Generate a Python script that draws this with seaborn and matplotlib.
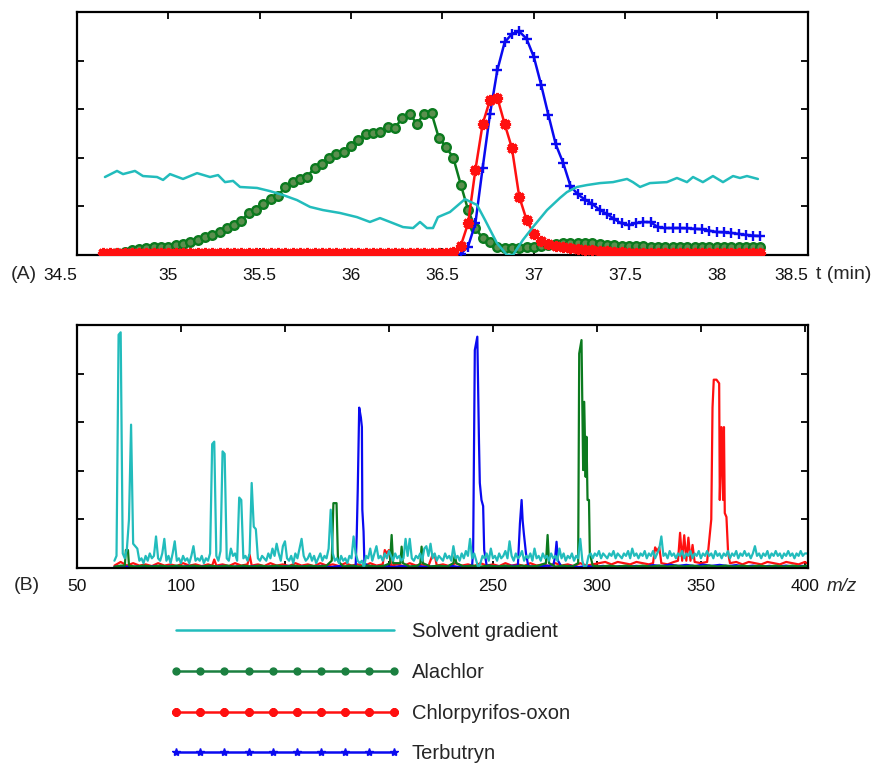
import matplotlib
matplotlib.use("Agg")
import matplotlib.pyplot as plt
from matplotlib.lines import Line2D
import seaborn as sns

# -----------------------------
# Data: (A) extracted ion chromatograms
# -----------------------------
scan_time = [
    34.64, 34.68, 34.72, 34.76, 34.80, 34.84, 34.88, 34.92, 34.96, 35.00,
    35.04, 35.08, 35.12, 35.16, 35.20, 35.24, 35.28, 35.32, 35.36, 35.40,
    35.44, 35.48, 35.52, 35.56, 35.60, 35.64, 35.68, 35.72, 35.76, 35.80,
    35.84, 35.88, 35.92, 35.96, 36.00, 36.04, 36.08, 36.12, 36.16, 36.20,
    36.24, 36.28, 36.32, 36.36, 36.40, 36.44, 36.48, 36.52, 36.56, 36.60,
    36.64, 36.68, 36.72, 36.76, 36.80, 36.84, 36.88, 36.92, 36.96, 37.00,
    37.04, 37.08, 37.12, 37.16, 37.20, 37.24, 37.28, 37.32, 37.36, 37.40,
    37.44, 37.48, 37.52, 37.56, 37.60, 37.64, 37.68, 37.72, 37.76, 37.80,
    37.84, 37.88, 37.92, 37.96, 38.00, 38.04, 38.08, 38.12, 38.16, 38.20,
    38.24,
]

alachlor = [
    0.5, 0.6, 0.9, 1.3, 1.9, 2.5, 2.8, 3.2, 3.3, 3.4,
    4.1, 4.6, 5.2, 6.2, 7.4, 8.4, 9.3, 11.0, 12.4, 14.2,
    17.4, 18.6, 20.8, 23.0, 24.4, 28.0, 30.0, 31.2, 32.2, 36.0,
    37.6, 40.0, 41.4, 42.6, 45.0, 47.2, 49.6, 50.3, 50.6, 52.8,
    52.3, 56.4, 58.2, 54.0, 58.2, 58.4, 48.2, 44.5, 39.8, 29.0,
    18.6, 11.0, 7.0, 5.2, 3.3, 2.9, 2.9, 2.9, 3.1, 3.3,
    3.8, 4.1, 4.5, 4.8, 4.9, 4.9, 4.9, 4.8, 4.5, 4.1,
    4.0, 3.9, 3.8, 3.7, 3.6, 3.5, 3.4, 3.3, 3.3, 3.4,
    3.3, 3.2, 3.3, 3.3, 3.2, 3.3, 3.4, 3.3, 3.2, 3.3,
    3.3,
]

chlorpyrifos_oxon = [
    0.8, 0.9, 0.7, 0.8, 1.0, 0.8, 0.7, 0.9, 0.8, 0.8,
    0.9, 0.7, 0.8, 1.0, 0.8, 0.7, 0.9, 0.8, 0.8, 0.9,
    0.7, 0.8, 1.0, 0.8, 0.7, 0.9, 0.8, 0.8, 0.9, 0.7,
    0.8, 1.0, 0.8, 0.7, 0.9, 0.8, 0.8, 0.9, 0.7, 0.8,
    1.0, 0.8, 0.7, 0.9, 0.8, 0.8, 0.9, 0.7, 1.2, 3.8,
    13.0, 35.0, 54.0, 63.8, 64.8, 54.0, 44.0, 24.0, 14.5, 8.6,
    5.9, 4.4, 3.6, 3.1, 2.7, 2.5, 2.2, 1.9, 1.7, 1.5,
    1.3, 1.1, 1.0, 0.9, 0.8, 0.9, 0.8, 0.7, 0.8, 0.9,
    0.8, 0.7, 0.8, 0.9, 0.8, 0.8, 0.7, 0.9, 0.8, 0.8,
    0.8,
]

terbutryn = [
    0.4, 0.3, 0.5, 0.4, 0.3, 0.4, 0.5, 0.4, 0.3, 0.4,
    0.4, 0.3, 0.5, 0.4, 0.3, 0.4, 0.5, 0.4, 0.3, 0.4,
    0.4, 0.3, 0.5, 0.4, 0.3, 0.4, 0.5, 0.4, 0.3, 0.4,
    0.4, 0.3, 0.5, 0.4, 0.3, 0.4, 0.5, 0.4, 0.3, 0.4,
    0.4, 0.3, 0.5, 0.4, 0.3, 0.4, 0.5, 0.4, 0.3, 0.4,
    3.5, 13.0, 36.0, 58.0, 76.0, 87.5, 91.0, 92.0, 89.0, 81.5,
    70.0, 57.5, 45.5, 38.0, 28.5, 25.0, 22.8, 21.0, 18.6, 16.9,
    14.8, 13.0, 12.3, 13.2, 13.6, 13.5, 11.4, 11.1, 11.1, 11.1,
    11.0, 10.8, 10.6, 10.0, 9.5, 9.3, 9.1, 8.7, 8.3, 8.0,
    7.8,
]

solvent_time = [
    34.653, 34.719, 34.752, 34.817, 34.861, 34.938, 34.971, 35.009, 35.080, 35.157,
    35.228, 35.272, 35.310, 35.354, 35.392, 35.485, 35.556, 35.627, 35.704, 35.775,
    35.846, 35.939, 36.032, 36.103, 36.158, 36.213, 36.284, 36.339, 36.377, 36.415,
    36.448, 36.475, 36.541, 36.623, 36.689, 36.733, 36.798, 36.853, 36.886, 36.940,
    36.995, 37.072, 37.143, 37.181, 37.236, 37.291, 37.362, 37.433, 37.510, 37.542,
    37.581, 37.635, 37.728, 37.783, 37.838, 37.871, 37.925, 37.980, 38.035, 38.090,
    38.128, 38.166, 38.226,
]

solvent_level = [
    32.1, 34.6, 33.3, 34.6, 32.5, 32.1, 30.9, 33.3, 31.3, 33.7,
    32.1, 32.9, 30.0, 30.5, 28.0, 27.6, 26.3, 24.7, 22.6, 19.8,
    18.5, 17.3, 15.6, 13.6, 15.2, 13.6, 11.5, 11.1, 13.6, 11.1,
    11.1, 15.6, 17.7, 23.0, 20.6, 14.4, 4.9, 0.0, 0.0, 6.2,
    11.5, 18.5, 23.5, 25.9, 28.0, 28.8, 29.6, 30.0, 31.3, 30.0,
    28.0, 29.6, 30.0, 31.7, 30.0, 32.1, 30.0, 32.5, 30.0, 32.5,
    31.7, 32.5, 31.3,
]

time_ticks = [34.5, 35, 35.5, 36, 36.5, 37, 37.5, 38, 38.5]
time_tick_labels = ["34.5", "35", "35.5", "36", "36.5", "37", "37.5", "38", "38.5"]

# -----------------------------
# Data: (B) mass spectra
# -----------------------------
solvent_mz = list(range(68, 402))
solvent_spectrum = [
    3, 5, 96, 97, 6, 4, 8, 20, 59, 10,
    9, 8, 3, 4, 2, 5, 3, 6, 4, 5,
    13, 4, 3, 6, 12, 3, 5, 2, 6, 11,
    3, 4, 2, 5, 3, 4, 2, 5, 9, 3,
    4, 3, 5, 2, 4, 3, 6, 51, 52, 5,
    3, 7, 48, 47, 4, 3, 8, 5, 6, 3,
    29, 28, 4, 5, 3, 6, 35, 17, 16, 4,
    3, 5, 4, 3, 6, 4, 8, 5, 10, 6,
    3, 9, 11, 4, 3, 5, 2, 6, 4, 8,
    12, 5, 3, 4, 6, 3, 5, 2, 4, 6,
    3, 5, 4, 8, 24, 6, 3, 4, 2, 5,
    3, 4, 2, 5, 4, 13, 6, 3, 2, 3,
    0, 5, 4, 8, 3, 6, 9, 4, 5, 3,
    6, 4, 7, 5, 3, 6, 4, 5, 3, 4,
    12, 5, 12, 4, 3, 5, 4, 6, 3, 8,
    9, 5, 10, 4, 6, 3, 5, 4, 3, 6,
    4, 5, 3, 9, 4, 5, 3, 6, 4, 7,
    5, 12, 4, 6, 3, 0, 2, 5, 4, 6,
    3, 8, 4, 5, 3, 6, 4, 5, 7, 4,
    11, 5, 3, 6, 4, 5, 7, 3, 5, 4,
    6, 3, 8, 4, 5, 3, 6, 4, 5, 3,
    6, 4, 5, 3, 8, 4, 6, 3, 5, 4,
    6, 3, 5, 4, 12, 3, 0, 1, 5, 6,
    4, 6, 5, 7, 4, 6, 5, 4, 6, 5,
    7, 4, 6, 5, 4, 6, 5, 7, 4, 8,
    5, 6, 4, 6, 5, 7, 4, 6, 5, 7,
    4, 6, 8, 13, 5, 6, 4, 7, 5, 6,
    4, 6, 5, 7, 4, 6, 5, 7, 4, 6,
    5, 7, 4, 6, 5, 7, 5, 6, 4, 7,
    5, 6, 4, 6, 5, 7, 4, 6, 5, 7,
    4, 6, 5, 7, 5, 6, 4, 6, 9, 5,
    6, 4, 6, 5, 7, 4, 6, 5, 7, 5,
    6, 4, 6, 5, 7, 5, 6, 4, 6, 5,
    7, 5, 6, 6,
]

# (m/z, intensity) pairs
alachlor_spectrum = [
    (68, 0.5), (71, 1.0), (73, 1.0), (73.5, 7.4), (74.5, 7.4), (75, 1.0), (78, 0.6),
    (82, 1.0), (86, 0.6), (90, 1.0), (94, 0.6), (98, 1.0), (102, 0.6), (106, 1.0),
    (110, 0.6), (114, 1.0), (118, 0.6), (122, 1.0), (126, 0.6), (130, 1.0), (134, 0.6),
    (138, 1.0), (142, 0.6), (146, 1.0), (150, 0.6), (154, 1.0), (158, 0.6), (162, 1.0),
    (166, 0.6), (170, 1.0), (172.5, 3.0), (173.3, 26.7), (174.8, 26.7), (175.5, 3.0),
    (178, 0.6), (182, 1.0), (186, 0.6), (190, 1.0), (194, 0.6), (198, 1.0), (200.5, 2.0),
    (201.3, 13.6), (202, 2.0), (205.5, 2.0), (206.1, 8.8), (206.7, 2.0), (210, 0.6),
    (214, 1.0), (215.1, 2.0), (215.7, 8.8), (216.3, 2.0), (220, 0.6), (224, 1.0),
    (228, 0.6), (231, 2.0), (231.7, 5.5), (232.4, 2.0), (236, 0.6), (240, 1.0),
    (244, 0.6), (248, 1.0), (252, 0.6), (256, 1.0), (260, 0.6), (264, 1.0), (268, 0.6),
    (272, 1.0), (275.5, 2.0), (276.3, 13.6), (277, 2.0), (280, 0.6), (284, 1.0),
    (288, 0.6), (291, 2.0), (291.5, 88.3), (292.6, 93.8), (293.4, 40.3), (293.9, 68.4),
    (294.6, 37.5), (295.0, 54.0), (295.5, 28.0), (296.2, 28.0), (296.6, 6.0), (298, 1.0),
    (302, 0.6), (306, 1.0), (310, 0.6), (314, 1.0), (318, 0.6), (322, 1.0), (326, 0.6),
    (330, 1.0), (334, 0.6), (338, 1.0), (342, 0.6), (346, 1.0), (350, 0.6), (354, 1.0),
    (358, 0.6), (362, 1.0), (366, 0.6), (370, 1.0), (374, 0.6), (378, 1.0), (382, 0.6),
    (386, 1.0), (390, 0.6), (394, 1.0), (398, 0.6), (401, 1.0),
]

chlorpyrifos_oxon_spectrum = [
    (68, 1.0), (71, 2.5), (74, 1.0), (77, 2.0), (80, 1.0), (83, 1.5), (86, 0.8),
    (89, 2.0), (92, 1.0), (95, 1.5), (98, 0.8), (101, 2.0), (104, 1.0), (107, 1.5),
    (110, 0.8), (113, 1.5), (115, 1.0), (116, 3.5), (117, 1.0), (120, 1.5), (123, 0.8),
    (126, 2.0), (129, 1.0), (132, 1.5), (133, 5.5), (134, 1.0), (137, 1.5), (140, 0.8),
    (143, 2.0), (146, 1.0), (149, 1.5), (152, 0.8), (155, 2.0), (158, 1.0), (161, 1.5),
    (164, 0.8), (167, 2.0), (170, 1.0), (173, 1.5), (176, 0.8), (179, 2.0), (182, 1.0),
    (185, 1.5), (188, 0.8), (191, 2.0), (194, 1.0), (197, 1.5), (198, 7.4), (199, 6.0),
    (200, 7.4), (201, 1.0), (204, 1.5), (207, 0.8), (210, 2.0), (213, 1.0), (216, 1.5),
    (219, 0.8), (221, 5.5), (222, 5.5), (223, 1.0), (226, 1.5), (229, 0.8), (232, 2.0),
    (235, 1.0), (238, 1.5), (241, 0.8), (244, 2.0), (247, 1.0), (250, 1.5), (253, 0.8),
    (256, 2.0), (259, 1.0), (262, 1.5), (265, 0.8), (268, 2.0), (271, 1.0), (274, 1.5),
    (277, 0.8), (280, 2.0), (283, 1.0), (286, 1.5), (289, 0.8), (292, 2.0), (295, 1.0),
    (298, 1.5), (301, 2.0), (304, 2.5), (307, 1.5), (310, 2.5), (313, 2.0), (316, 1.5),
    (319, 2.5), (322, 2.0), (325, 1.5), (327, 2.0), (328, 8.5), (329, 7.0), (330, 8.5),
    (331, 2.0), (334, 1.5), (337, 2.5), (339, 3.0), (340, 14.5), (341, 3.0), (342, 13.5),
    (343, 3.0), (344, 12.5), (345, 3.0), (346, 9.5), (347, 2.5), (350, 2.0), (353, 2.5),
    (355, 20.0), (355.6, 66.0), (356.2, 77.5), (357.5, 77.5), (358.8, 76.0), (359.1, 28.0),
    (359.9, 58.0), (360.7, 28.0), (361.1, 58.0), (361.5, 22.6), (362.3, 21.0),
    (363.1, 6.2), (364, 2.0), (367, 2.5), (370, 1.5), (373, 2.5), (376, 2.0), (379, 1.5),
    (382, 2.5), (385, 2.0), (388, 1.5), (391, 2.5), (394, 2.0), (397, 1.5), (400, 2.5),
    (401, 2.0),
]

terbutryn_spectrum = [
    (68, 0.5), (72, 0.8), (76, 0.4), (80, 0.8), (84, 0.5), (88, 0.9), (92, 0.4),
    (96, 0.8), (100, 0.5), (104, 0.9), (108, 0.4), (112, 0.8), (116, 0.5), (120, 0.9),
    (124, 0.4), (128, 0.8), (132, 0.5), (136, 0.9), (140, 0.4), (144, 0.8), (148, 0.5),
    (152, 0.9), (156, 0.4), (160, 0.8), (164, 0.5), (168, 0.9), (172, 0.4), (176, 0.8),
    (180, 0.5), (183, 0.8), (184, 1.0), (184.5, 13.0), (185, 32.0), (185.7, 66.0),
    (186.5, 62.0), (187.0, 58.0), (187.2, 24.0), (187.8, 15.0), (188.2, 2.0), (190, 0.8),
    (194, 0.5), (198, 0.9), (202, 0.4), (206, 0.8), (210, 0.5), (214, 0.9), (218, 0.4),
    (222, 0.8), (226, 0.5), (230, 0.9), (234, 0.4), (238, 0.8), (240, 1.0), (240.5, 7.4),
    (241.3, 89.7), (242.5, 95.2), (243.3, 52.0), (243.7, 35.0), (244.5, 28.0),
    (245.3, 25.5), (245.8, 7.4), (247, 1.0), (250, 0.8), (254, 0.5), (258, 0.9),
    (262, 1.0), (263, 18.4), (263.8, 28.0), (264.3, 19.5), (264.9, 14.0), (265.9, 6.0),
    (267, 0.8), (271, 0.5), (275, 0.9), (279, 1.0), (280, 5.0), (280.6, 10.8),
    (281.3, 3.0), (283, 0.5), (287, 0.9), (291, 0.4), (295, 0.8), (299, 0.5), (303, 0.9),
    (307, 0.4), (311, 0.8), (315, 0.5), (319, 0.9), (323, 0.6), (327, 1.2), (331, 0.8),
    (335, 1.4), (339, 0.9), (343, 1.3), (347, 0.8), (351, 1.4), (355, 0.9), (359, 1.3),
    (363, 0.8), (367, 1.2), (371, 0.6), (375, 1.0), (379, 0.5), (383, 0.9), (387, 0.6),
    (391, 1.0), (395, 0.5), (399, 0.9), (401, 0.6),
]

mz_ticks = [50, 100, 150, 200, 250, 300, 350, 400]
level_ticks = [20, 40, 60, 80]

# colours
CYAN = "#22bcbc"
GREEN = "#0b7a1e"
GREEN_FILL = "#5b8f4e"
LEGEND_GREEN = "#1b8040"
RED = "#ff1010"
BLUE = "#0a0af0"

# -----------------------------
# Style
# -----------------------------
sns.set_theme(style="ticks")
plt.rcParams["font.family"] = ["Liberation Sans", "DejaVu Sans"]

fig = plt.figure(figsize=(8.81, 7.7), dpi=100)
fig.patch.set_facecolor("white")

ax_a = fig.add_axes([0.0874, 0.6688, 0.8297, 0.3156])
ax_b = fig.add_axes([0.0874, 0.2623, 0.8297, 0.3156])

# -----------------------------
# (A) chromatograms
# -----------------------------
sns.lineplot(x=scan_time, y=alachlor, ax=ax_a, color=GREEN, linewidth=1.8,
             marker="o", markersize=6.2, markerfacecolor=GREEN_FILL,
             markeredgecolor=GREEN, markeredgewidth=1.7,
             estimator=None, sort=False, zorder=2)
sns.lineplot(x=scan_time, y=terbutryn, ax=ax_a, color=BLUE, linewidth=1.8,
             marker="+", markersize=7.5, markeredgecolor=BLUE, markeredgewidth=1.7,
             estimator=None, sort=False, zorder=3)
sns.lineplot(x=scan_time, y=chlorpyrifos_oxon, ax=ax_a, color=RED, linewidth=1.8,
             marker=(8, 2, 0), markersize=8, markeredgecolor=RED, markeredgewidth=2.2,
             estimator=None, sort=False, zorder=4)
sns.lineplot(x=solvent_time, y=solvent_level, ax=ax_a, color=CYAN, linewidth=1.8,
             estimator=None, sort=False, zorder=5)

ax_a.set_xlim(34.5, 38.5)
ax_a.set_ylim(0, 100)
ax_a.set_xticks(time_ticks)
ax_a.set_xticklabels(time_tick_labels)
ax_a.set_yticks(level_ticks)

# -----------------------------
# (B) mass spectra
# -----------------------------
spectra = [
    (chlorpyrifos_oxon_spectrum, RED),
    (terbutryn_spectrum, BLUE),
    (alachlor_spectrum, GREEN),
]
for spectrum, colour in spectra:
    mz, intensity = zip(*spectrum)
    sns.lineplot(x=list(mz), y=list(intensity), ax=ax_b, color=colour,
                 linewidth=1.6, estimator=None, sort=False)
sns.lineplot(x=solvent_mz, y=solvent_spectrum, ax=ax_b, color=CYAN,
             linewidth=1.6, estimator=None, sort=False)

ax_b.set_xlim(50, 401.5)
ax_b.set_ylim(0, 100)
ax_b.set_xticks(mz_ticks)
ax_b.set_yticks(level_ticks)

# -----------------------------
# Axes cosmetics
# -----------------------------
for ax in (ax_a, ax_b):
    ax.set_facecolor("white")
    ax.set_xlabel("")
    ax.set_ylabel("")
    for side in ("top", "bottom", "left", "right"):
        ax.spines[side].set_visible(True)
        ax.spines[side].set_linewidth(1.6)
        ax.spines[side].set_color("black")
    ax.tick_params(direction="in", length=5, width=1.3, color="black",
                   top=True, bottom=True, left=True, right=True,
                   labelleft=False, labelsize=12.5, labelcolor="#111111")
ax_a.tick_params(axis="x", pad=9)
ax_b.tick_params(axis="x", pad=8)

# end labels of the time axis sit inside the axis span
time_labels = ax_a.get_xticklabels()
time_labels[0].set_horizontalalignment("right")
time_labels[-1].set_horizontalalignment("right")

fig.text(0.027, 0.643, "(A)", fontsize=14, ha="center", va="center")
fig.text(0.926, 0.643, "t (min)", fontsize=14, ha="left", va="center")
fig.text(0.03, 0.239, "(B)", fontsize=14, ha="center", va="center")
fig.text(0.955, 0.238, "m/z", fontsize=13.5, style="italic", ha="center", va="center")

# -----------------------------
# Legend
# -----------------------------
legend_labels = ["Solvent gradient", "Alachlor", "Chlorpyrifos-oxon", "Terbutryn"]
legend_handles = [
    Line2D([], [], color=CYAN, linewidth=1.8),
    Line2D([], [], color=LEGEND_GREEN, linewidth=1.8, marker="o", markersize=5,
           markerfacecolor=LEGEND_GREEN, markeredgecolor=LEGEND_GREEN),
    Line2D([], [], color=RED, linewidth=1.8, marker=(8, 2, 0), markersize=6,
           markeredgecolor=RED, markeredgewidth=2.2),
    Line2D([], [], color=BLUE, linewidth=1.8, marker="*", markersize=6,
           markerfacecolor=BLUE, markeredgecolor=BLUE),
]
fig.legend(legend_handles, legend_labels, loc="upper left",
           bbox_to_anchor=(0.193, 0.192), frameon=False, numpoints=10,
           handlelength=11.4, handletextpad=0.6, labelspacing=1.08,
           fontsize=14.5, borderpad=0, borderaxespad=0)

plt.savefig("out.png", dpi=100)
plt.close()
